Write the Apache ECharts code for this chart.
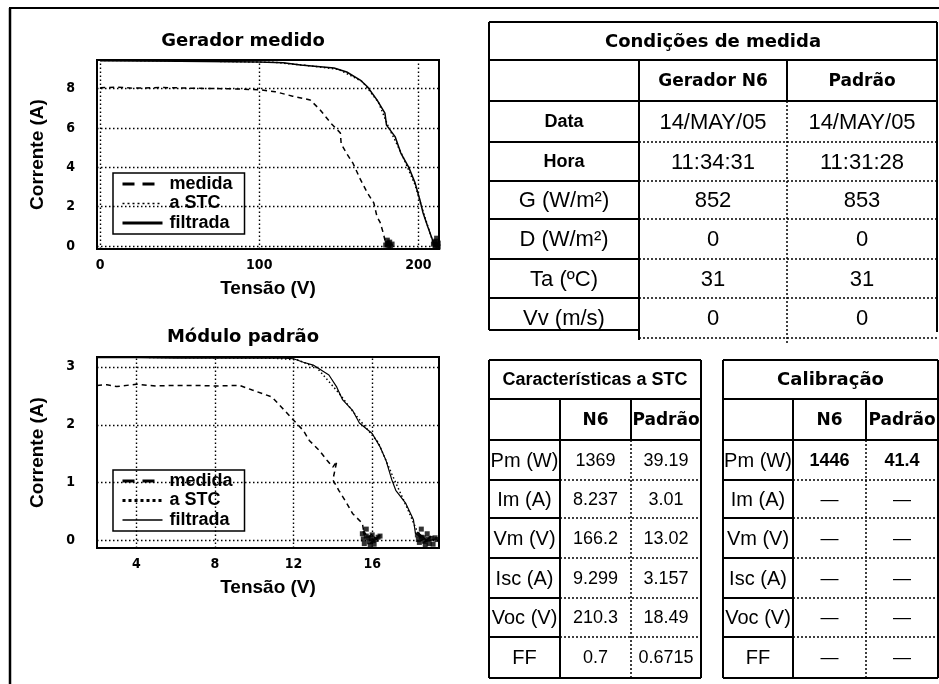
<!DOCTYPE html>
<html><head><meta charset="utf-8">
<script src="https://cdn.jsdelivr.net/npm/echarts@6/dist/echarts.min.js"></script>
<style>html,body{margin:0;padding:0;background:#fff}#c{width:939px;height:684px}</style>
</head><body><div id="c"></div>
<script>
// ---------- DATA ----------
// Gerador medido: [Tensão (V), Corrente (A)]
const geradorMedida = [[0,8.05],[10,8.08],[20,8.03],[40,8.06],[60,8.02],[80,8.0],[100,7.95],[110,7.85],[121,7.62],[132,7.43],[138,6.95],[145,6.25],[151,5.75],[151.5,5.2],[155,4.7],[159,4.2],[163.5,3.4],[168,2.7],[172,2.2],[174,1.5],[176,1.2],[178,0.65],[179,0.3],[180,0.05],[181,0.22],[182,0.0],[183,0.12],[179.5,0.0],[181.5,0.08]];
const geradorSTC = [[0,9.44],[60,9.41],[110,9.34],[130,9.18],[150,8.98],[165,8.35],[175,7.3],[181,6.1],[190,4.6],[198,3.1],[204,1.5],[208,0.5],[210.3,0]];
const geradorFiltrada = [[0,9.42],[50,9.4],[100,9.36],[115,9.32],[126,9.2],[147,9.05],[155,8.85],[163.5,8.44],[168,8.1],[174,7.43],[179,6.76],[180,6.15],[185.5,5.55],[189,4.73],[194,4.0],[198,3.2],[201,2.34],[203,1.68],[206,0.97],[209,0.3],[210,0.05],[211,0.18],[212,0.0],[209.5,0.1],[211.5,0.05]];
const geradorRuido = [[179.5,0.05],[180.5,0.12],[181,0.15],[181.5,-0.02],[182.5,0.0],[180.5,0.3],[183.5,0.1],[182,0.2],[209.5,0.1],[210,0.2],[211,0.25],[212,0.05],[210.5,0.0],[212.5,0.15],[211.5,0.4],[211,0.05],[212.5,-0.05]];
const geradorXTicks = [0,100,200];
const geradorYTicks = [0,2,4,6,8];

// Módulo padrão
const moduloMedida = [[2,2.68],[2.5,2.69],[3,2.66],[4,2.7],[5,2.67],[6,2.68],[7,2.68],[8,2.67],[9.25,2.68],[9.9,2.6],[10.9,2.48],[11.4,2.3],[12.0,2.08],[12.5,1.9],[12.8,1.73],[13.3,1.56],[13.7,1.39],[14.0,1.27],[14.2,1.37],[14.0,1.05],[14.3,0.87],[14.7,0.65],[15.0,0.47],[15.5,0.3],[15.6,0.1],[15.5,0.2],[15.8,0.05],[16.0,0.12],[16.2,0.02],[16.4,0.1],[15.9,-0.05],[16.1,0.03]];
const moduloSTC = [[2,3.17],[6,3.16],[11,3.15],[12.2,3.12],[13.2,2.98],[14.3,2.55],[15.2,2.15],[16.3,1.7],[17.0,1.15],[17.8,0.55],[18.49,0]];
const moduloFiltrada = [[2,3.16],[4,3.16],[6,3.15],[8,3.15],[10,3.15],[11.5,3.15],[12,3.14],[12.5,3.08],[13.0,3.03],[13.8,2.86],[14.2,2.65],[14.5,2.43],[15.0,2.25],[15.35,2.03],[16.0,1.85],[16.4,1.62],[16.7,1.39],[17.0,1.05],[17.2,0.87],[17.7,0.65],[18.1,0.36],[18.2,0.13],[18.5,0.05],[18.3,0.15],[18.8,0.0],[19.0,0.08],[18.6,-0.03],[19.2,0.03]];
const moduloRuido = [[15.5,0.12],[15.55,0.03],[15.6,-0.05],[15.7,0.08],[15.8,0.05],[15.85,-0.02],[15.9,-0.08],[16.0,0.1],[16.05,0.0],[16.1,-0.06],[16.2,0.02],[16.3,0.06],[16.4,0.08],[15.7,0.2],[15.95,0.04],[18.3,0.1],[18.35,0.02],[18.4,-0.03],[18.5,0.06],[18.6,0.05],[18.65,-0.01],[18.7,-0.07],[18.8,0.12],[18.85,0.03],[18.9,-0.05],[19.0,0.04],[19.1,-0.06],[18.5,0.2],[19.2,0.05],[19.3,0.02]];
const moduloXTicks = [4,8,12,16];
const moduloYTicks = [0,1,2,3];

const legendNames = ['medida','a STC','filtrada'];

// Tabela: Condições de medida
const condTitle = 'Condições de medida';
const condHeader = ['Gerador N6','Padrão'];
const condLabels = ['Data','Hora','G (W/m²)','D (W/m²)','Ta (ºC)','Vv (m/s)'];
const condGerador = ['14/MAY/05','11:34:31','852','0','31','0'];
const condPadrao = ['14/MAY/05','11:31:28','853','0','31','0'];

// Tabela: Características a STC
const stcTitle = 'Características a STC';
const stcHeader = ['N6','Padrão'];
const stcLabels = ['Pm (W)','Im (A)','Vm (V)','Isc (A)','Voc (V)','FF'];
const stcN6 = ['1369','8.237','166.2','9.299','210.3','0.7'];
const stcPadrao = ['39.19','3.01','13.02','3.157','18.49','0.6715'];

// Tabela: Calibração
const calTitle = 'Calibração';
const calHeader = ['N6','Padrão'];
const calLabels = ['Pm (W)','Im (A)','Vm (V)','Isc (A)','Voc (V)','FF'];
const calN6 = ['1446','—','—','—','—','—'];
const calPadrao = ['41.4','—','—','—','—','—'];

// ---------- CHART ----------
const chart = echarts.init(document.getElementById('c'));
const TICK_FONT = {color:'#000', fontWeight:'bold', fontSize:14, fontFamily:"'Liberation Sans Narrow','DejaVu Sans Condensed','Liberation Sans',sans-serif"};
const NAME_FONT = {color:'#000', fontWeight:'bold', fontSize:19, fontFamily:"'Liberation Sans',Arial,sans-serif"};
const TITLE_FONT = {color:'#000', fontWeight:'bold', fontSize:18, fontFamily:"'DejaVu Sans',sans-serif"};
const DOT = [1.5,2.5];

function gridLines(xt, yt) {
  return {
    symbol:['none','none'], silent:true, animation:false,
    label:{show:false}, emphasis:{disabled:true},
    lineStyle:{type:DOT, color:'#000', width:1.4},
    data: xt.map(v=>({xAxis:v})).concat(yt.map(v=>({yAxis:v})))
  };
}
function xAx(gi, min, max, ticks) {
  return {gridIndex:gi, type:'value', min, max,
    axisLine:{show:false}, axisTick:{show:false}, splitLine:{show:false},
    axisLabel:Object.assign({customValues:ticks, margin:9}, TICK_FONT),
    name:'Tensão (V)', nameLocation:'middle', nameGap:30, nameTextStyle:NAME_FONT};
}
function yAx(gi, min, max, ticks) {
  return {gridIndex:gi, type:'value', min, max,
    axisLine:{show:false}, axisTick:{show:false}, splitLine:{show:false},
    axisLabel:Object.assign({customValues:ticks, margin:22}, TICK_FONT),
    name:'Corrente (A)', nameLocation:'middle', nameGap:50, nameTextStyle:NAME_FONT};
}
function ser(name, data, gi, type, width) {
  return {name, type:'line', data, xAxisIndex:gi, yAxisIndex:gi, symbol:'none', silent:true,
    lineStyle:{color:'#000', width:width||1.5, type:type||'solid'}, itemStyle:{color:'#000'}, z:3};
}
function noise(data, gi) {
  return {type:'scatter', data, xAxisIndex:gi, yAxisIndex:gi, symbol:'rect', symbolSize:5, silent:true,
    itemStyle:{color:'#000'}, z:3};
}
function legendAt(top, styles) {
  return {left:113, top, orient:'vertical', selectedMode:false,
    borderColor:'#000', borderWidth:1.5, backgroundColor:'#fff', borderRadius:0,
    padding:[2,12,2,8], itemGap:1.5, itemWidth:40, itemHeight:14,
    textStyle:{color:'#000', fontWeight:'bold', fontSize:18, fontFamily:"'Liberation Sans',Arial,sans-serif", padding:[0,0,0,2]},
    data: legendNames.map((n,i)=>({name:n, lineStyle:styles[i],
      itemStyle:{color:'rgba(0,0,0,0)', borderColor:'rgba(0,0,0,0)', borderWidth:0, opacity:0}}))};
}

// ---------- TABLES (graphic) ----------
function buildTable(c) {
  const els = [];
  const L = (x1,y1,x2,y2,w,dash) => els.push({type:'line', silent:true, z:10,
    shape:{x1,y1,x2,y2}, style:{stroke:'#000', lineWidth:w, lineDash:dash||null}});
  const T = (x,y,text,font) => els.push({type:'text', silent:true, z:11, x, y,
    style:{text, font, fill:'#000', align:'center', verticalAlign:'middle'}});
  const [x0,x1,x2,x3] = c.xs; const ys = c.ys; const n = c.labels.length;
  const D = [2,2];
  L(x0,ys[0],x3,ys[0],2);
  L(x0,ys[1],x3,ys[1],2);
  L(x0,ys[2],x3,ys[2],2);
  L(x0,ys[0],x0,c.labelBottom,2);
  L(x3,ys[0],x3,c.rightBottom,2);
  L(x1,ys[1],x1,c.col1Bottom,2);
  L(x2,ys[1],x2,ys[2],2);
  L(x2,ys[2],x2,c.dotBottom,1.5,D);
  for (let i=0;i<n;i++) {
    const yb = ys[3+i], yt = ys[2+i];
    const last = i===n-1;
    if (last && c.closed) { L(x0,yb,x3,yb,2); }
    else {
      L(x0,last?c.labelBottom:yb,x1,last?c.labelBottom:yb,2);
      L(x1,yb,x3,yb,1.5,D);
    }
    const ym = (yt+yb)/2 + 1;
    const bl = i < c.boldLabelRows;
    T((x0+x1)/2, ym, c.labels[i], bl ? c.labelBoldFont : c.labelFont);
    const bv = i < c.boldValueRows;
    T((x1+x2)/2, ym, c.colA[i], bv ? c.valBoldFont : c.valFont);
    T((x2+x3)/2, ym, c.colB[i], bv ? c.valBoldFont : c.valFont);
  }
  T((x0+x3)/2, (ys[0]+ys[1])/2+1, c.title, c.titleFont);
  T((x1+x2)/2, (ys[1]+ys[2])/2+1, c.header[0], c.headFont);
  T((x2+x3)/2, (ys[1]+ys[2])/2+1, c.header[1], c.headFont);
  return els;
}
const DJB = "'DejaVu Sans',sans-serif";
const LIB = "'Liberation Sans',Arial,sans-serif";
const tab1 = buildTable({xs:[489,639,787,937], ys:[22,60,101,142,181,219,259,298,338],
  labelBottom:330, rightBottom:332, col1Bottom:340, dotBottom:345, closed:false,
  title:condTitle, header:condHeader, labels:condLabels, colA:condGerador, colB:condPadrao,
  titleFont:'bold 18px '+DJB, headFont:'bold 17px '+DJB,
  labelFont:'22px '+LIB, labelBoldFont:'bold 18px '+LIB, boldLabelRows:2,
  valFont:'22px '+LIB, valBoldFont:'22px '+LIB, boldValueRows:0});
const tab2 = buildTable({xs:[489,560,631,701], ys:[360,399,440,480,518,558,598,637,678],
  labelBottom:678, rightBottom:678, col1Bottom:678, dotBottom:678, closed:true,
  title:stcTitle, header:stcHeader, labels:stcLabels, colA:stcN6, colB:stcPadrao,
  titleFont:'bold 18px '+LIB, headFont:'bold 17px '+DJB,
  labelFont:'20px '+LIB, labelBoldFont:'20px '+LIB, boldLabelRows:0,
  valFont:'18px '+LIB, valBoldFont:'bold 18px '+LIB, boldValueRows:0});
const tab3 = buildTable({xs:[723,793,866,938], ys:[360,399,440,480,518,558,598,637,678],
  labelBottom:678, rightBottom:678, col1Bottom:678, dotBottom:678, closed:true,
  title:calTitle, header:calHeader, labels:calLabels, colA:calN6, colB:calPadrao,
  titleFont:'bold 18px '+DJB, headFont:'bold 17px '+DJB,
  labelFont:'20px '+LIB, labelBoldFont:'20px '+LIB, boldLabelRows:0,
  valFont:'18px '+LIB, valBoldFont:'bold 18px '+LIB, boldValueRows:1});
const frame = [
  {type:'line', silent:true, z:10, shape:{x1:9,y1:8,x2:939,y2:8}, style:{stroke:'#000', lineWidth:2}},
  {type:'line', silent:true, z:10, shape:{x1:10,y1:8,x2:10,y2:684}, style:{stroke:'#000', lineWidth:2.5}}
];

const option = {
  animation:false,
  backgroundColor:'#fff',
  title:[
    {text:'Gerador medido', left:243, top:32, textAlign:'center', padding:0, textStyle:TITLE_FONT},
    {text:'Módulo padrão', left:243, top:328, textAlign:'center', padding:0, textStyle:TITLE_FONT}
  ],
  grid:[
    {left:97, top:60, width:342, height:189, show:true, borderColor:'#000', borderWidth:2, backgroundColor:'transparent'},
    {left:97, top:357, width:342, height:191, show:true, borderColor:'#000', borderWidth:2, backgroundColor:'transparent'}
  ],
  xAxis:[xAx(0,-2,213,geradorXTicks), xAx(1,2,19.4,moduloXTicks)],
  yAxis:[yAx(0,-0.15,9.46,geradorYTicks), yAx(1,-0.126,3.17,moduloYTicks)],
  legend:[
    legendAt(173,[{type:[12,8],width:3},{type:[2,3],width:1.5},{type:'solid',width:3}]),
    legendAt(470,[{type:[12,8],width:3},{type:[3,3],width:3},{type:'solid',width:1.5}])
  ],
  series:[
    {type:'line', data:[], xAxisIndex:0, yAxisIndex:0, silent:true, z:1, markLine:gridLines(geradorXTicks, geradorYTicks)},
    {type:'line', data:[], xAxisIndex:1, yAxisIndex:1, silent:true, z:1, markLine:gridLines(moduloXTicks, moduloYTicks)},
    ser('a STC', geradorSTC, 0, [1.5,2.5], 1.5),
    ser('medida', geradorMedida, 0, [5,4], 1.5),
    ser('filtrada', geradorFiltrada, 0, 'solid', 1.5),
    noise(geradorRuido, 0),
    ser('a STC', moduloSTC, 1, [1.5,2.5], 1.5),
    ser('medida', moduloMedida, 1, [5,4], 1.5),
    ser('filtrada', moduloFiltrada, 1, 'solid', 1.2),
    noise(moduloRuido, 1)
  ],
  graphic: frame.concat(tab1, tab2, tab3)
};
chart.setOption(option);
</script>
</body></html>
